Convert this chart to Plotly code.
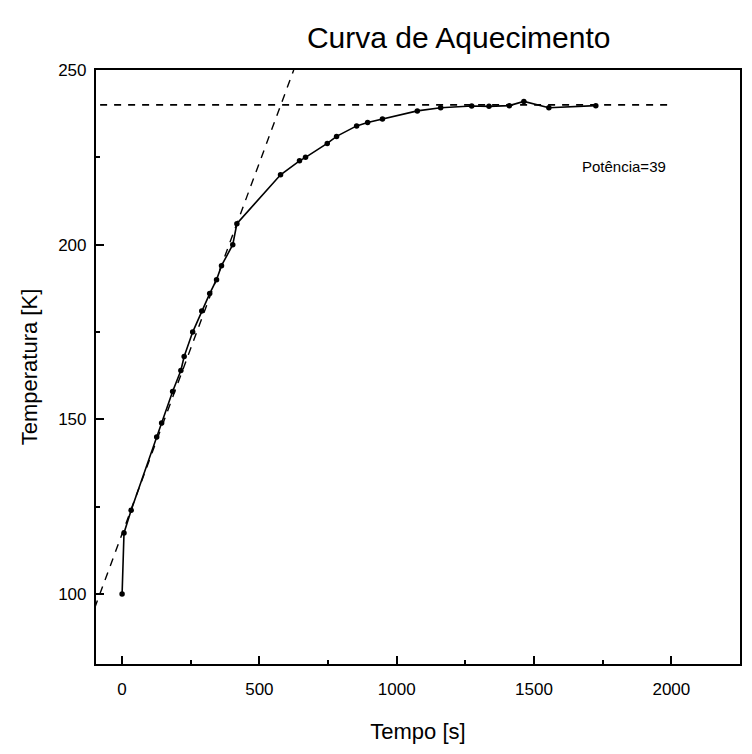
import plotly.graph_objects as go

# Data
tempo = [0, 7, 33, 126, 144, 184, 214, 226, 257, 290, 319, 344, 362, 403, 418,
         577, 646, 668, 747, 781, 854, 894, 948, 1075, 1160, 1273, 1336, 1410,
         1463, 1554, 1725]
temperatura = [100, 117.5, 124, 145, 149, 158, 164, 168, 175, 181, 186, 190, 194,
               200, 206, 220, 224, 225, 229, 231, 234, 235, 236, 238.3, 239.2,
               239.7, 239.6, 239.8, 241, 239.2, 239.8]

# Asymptote (horizontal dashed line)
assint_t = [-80, 2000]
assint_T = [240, 240]

# Tangent line (initial slope)
tang_t = [-100, 625]
tang_T = [96, 250]

x_ticks = [0, 500, 1000, 1500, 2000]
y_ticks = [100, 150, 200, 250]

FONT = "Liberation Sans, Arial, sans-serif"

fig = go.Figure()
fig.add_trace(go.Scatter(x=assint_t, y=assint_T, mode="lines",
                         line=dict(color="black", width=1.8, dash="7px,7px"),
                         showlegend=False, hoverinfo="skip"))
fig.add_trace(go.Scatter(x=tang_t, y=tang_T, mode="lines",
                         line=dict(color="black", width=1.4, dash="8px,7px"),
                         showlegend=False, hoverinfo="skip"))
fig.add_trace(go.Scatter(x=tempo, y=temperatura, mode="lines+markers",
                         line=dict(color="black", width=1.6),
                         marker=dict(color="black", size=5.5),
                         showlegend=False))

fig.add_annotation(x=1829, y=222.5, xref="x", yref="y", text="Potência=39",
                   showarrow=False, font=dict(family=FONT, size=15, color="black"))

axis_common = dict(showline=True, linecolor="black", linewidth=2.2, mirror=True,
                   ticks="inside", ticklen=8, tickwidth=1.6, tickcolor="black",
                   showgrid=False, zeroline=False,
                   tickfont=dict(family=FONT, size=17, color="black"))

fig.update_xaxes(range=[-95, 2250], tickvals=x_ticks, ticklabelstandoff=8,
                 minor=dict(ticks="inside", ticklen=4, tickcolor="black", dtick=250, tick0=0),
                 title=dict(text="Tempo [s]", font=dict(family=FONT, size=22, color="black"),
                            standoff=26),
                 **axis_common)
fig.update_yaxes(range=[80, 250], tickvals=y_ticks, ticklabelstandoff=4,
                 minor=dict(ticks="inside", ticklen=4, tickcolor="black", dtick=25, tick0=0),
                 title=dict(text="Temperatura [K]", font=dict(family=FONT, size=22, color="black"),
                            standoff=14),
                 **axis_common)

fig.update_layout(
    width=752, height=754,
    margin=dict(l=96, r=10, t=70, b=90),
    paper_bgcolor="white", plot_bgcolor="white",
    title=dict(text="Curva de Aquecimento", x=0.61, xanchor="center", y=0.95, yanchor="middle",
               font=dict(family=FONT, size=30, color="black")),
)

fig.write_html("out.html")
